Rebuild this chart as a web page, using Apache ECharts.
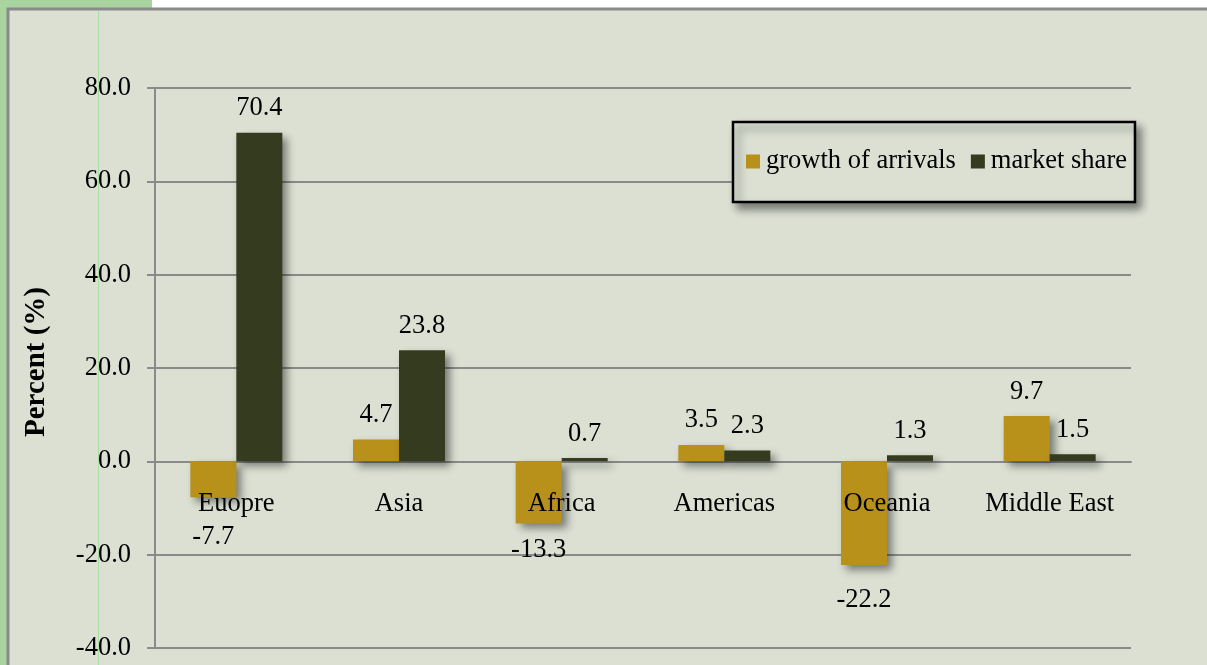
<!DOCTYPE html>
<html>
<head>
<meta charset="utf-8">
<script src="https://cdn.jsdelivr.net/npm/echarts@6/dist/echarts.min.js"></script>
<style>
html,body{margin:0;padding:0;background:#fff;}
#c{width:1207px;height:665px;}
</style>
</head>
<body>
<div id="c"></div>
<script>
var categories = ['Euopre', 'Asia', 'Africa', 'Americas', 'Oceania', 'Middle East'];
var growthOfArrivals = [-7.7, 4.7, -13.3, 3.5, -22.2, 9.7];
var marketShare = [70.4, 23.8, 0.7, 2.3, 1.3, 1.5];
var seriesNames = ['growth of arrivals', 'market share'];
var yTicks = { min: -40, max: 80, interval: 20 };

// label placement tweaks (style only), per category, for negative labels
var negLabelDistance = [26, 21, 13, 21, 22, 21];

var FONT = 'Liberation Serif';
var FS = 26.5;
var chart = echarts.init(document.getElementById('c'));

function makeData(vals) {
  return vals.map(function (v, i) {
    return {
      value: v,
      label: { position: v < 0 ? 'bottom' : 'top', distance: v < 0 ? negLabelDistance[i] : 11 }
    };
  });
}

var shadow = { shadowBlur: 8, shadowOffsetX: 5, shadowOffsetY: 5, shadowColor: 'rgba(0,0,0,0.45)' };

chart.setOption({
  backgroundColor: '#ffffff',
  animation: false,
  graphic: [
    { type: 'rect', z: -10, shape: { x: 0, y: 0, width: 1207, height: 665 }, style: { fill: '#ffffff' } },
    { type: 'rect', z: -9, shape: { x: 0, y: 0, width: 152, height: 665 }, style: { fill: '#a9d39f' } },
    { type: 'rect', z: -8, shape: { x: 8, y: 9, width: 1210, height: 680 }, style: { fill: '#dbe0d3', stroke: '#8a8a8a', lineWidth: 3 } },
    { type: 'line', z: -7, shape: { x1: 98.5, y1: 11, x2: 98.5, y2: 665 }, style: { stroke: '#a6e0a0', lineWidth: 1 } }
  ],
  grid: { left: 155, right: 76, top: 88, bottom: 17, containLabel: false, outerBoundsMode: 'none' },
  legend: {
    left: 733, top: 122,
    data: seriesNames,
    itemWidth: 14, itemHeight: 14, itemGap: 15,
    padding: [26, 8, 27, 13],
    backgroundColor: '#dbe0d3',
    borderColor: '#000', borderWidth: 2.5,
    shadowBlur: 8, shadowOffsetX: 5, shadowOffsetY: 6, shadowColor: 'rgba(0,0,0,0.45)',
    textStyle: { fontFamily: FONT, fontSize: FS, color: '#000', padding: [0, 0, 0, 1] },
    icon: 'rect'
  },
  xAxis: {
    type: 'category',
    data: categories,
    axisLine: { show: true, onZero: true, lineStyle: { color: '#8a8a8a', width: 2 } },
    axisTick: { show: false },
    axisLabel: { show: false },
    splitLine: { show: false }
  },
  yAxis: {
    type: 'value',
    min: yTicks.min, max: yTicks.max, interval: yTicks.interval,
    name: 'Percent (%)',
    nameLocation: 'middle',
    nameGap: 104,
    nameRotate: 90,
    nameTextStyle: { fontFamily: FONT, fontSize: 29, fontWeight: 'bold', color: '#000', padding: [0, 0, 0, 12] },
    axisLine: { show: true, lineStyle: { color: '#8a8a8a', width: 2 } },
    axisTick: { show: true, inside: false, length: 8, lineStyle: { color: '#8a8a8a', width: 2 } },
    axisLabel: { fontFamily: FONT, fontSize: FS, color: '#000', margin: 24,
      formatter: function (v) { return v.toFixed(1); } },
    splitLine: { show: true, lineStyle: { color: '#8a8a8a', width: 2 } }
  },
  series: [
    {
      name: seriesNames[0], type: 'bar', barWidth: 46, barGap: '0%',
      itemStyle: Object.assign({ color: '#b8911a' }, shadow),
      label: { show: true, fontFamily: FONT, fontSize: FS, color: '#000',
        formatter: function (p) { return p.value.toFixed(1); } },
      data: makeData(growthOfArrivals)
    },
    {
      name: seriesNames[1], type: 'bar', barWidth: 46, barGap: '0%',
      itemStyle: Object.assign({ color: '#353b1e' }, shadow),
      label: { show: true, fontFamily: FONT, fontSize: FS, color: '#000',
        formatter: function (p) { return p.value.toFixed(1); } },
      data: makeData(marketShare)
    },
    {
      name: 'categoryLabels', type: 'scatter', z: 20,
      symbolSize: 0, silent: true,
      itemStyle: { opacity: 1 },
      label: { show: true, position: 'bottom', distance: 29, fontFamily: FONT, fontSize: FS, color: '#000', opacity: 1,
        formatter: function (p) { return categories[p.dataIndex]; } },
      data: categories.map(function (c) { return [c, 0]; })
    }
  ]
});
</script>
</body>
</html>
